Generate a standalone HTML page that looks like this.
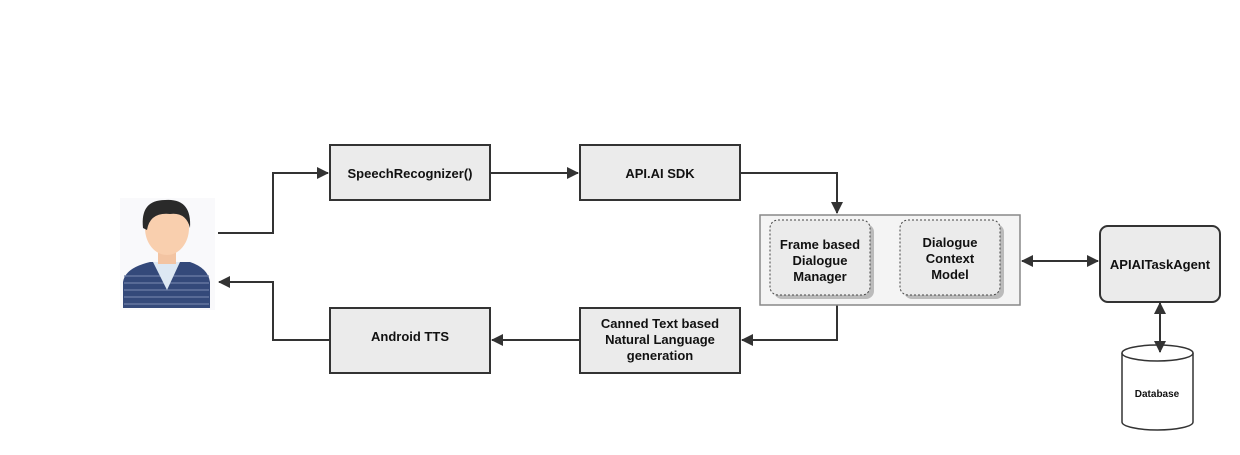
<!DOCTYPE html>
<html><head><meta charset="utf-8"><style>
body{margin:0;background:#fff;}
svg text{font-family:"Liberation Sans",Arial,sans-serif;font-weight:bold;fill:#111;}
</style></head><body>
<svg width="1240" height="450" viewBox="0 0 1240 450" xmlns="http://www.w3.org/2000/svg">
<defs>
<marker id="a" markerWidth="12" markerHeight="12" refX="11" refY="6" orient="auto" markerUnits="userSpaceOnUse"><path d="M0,0 L12,6 L0,12 z" fill="#333"/></marker>
<marker id="s" markerWidth="12" markerHeight="12" refX="1" refY="6" orient="auto" markerUnits="userSpaceOnUse"><path d="M12,0 L0,6 L12,12 z" fill="#333"/></marker>
</defs>
<!-- person -->
<rect x="120" y="198" width="95" height="112" fill="#f9f9fb"/>
<path d="M123,308 L123,282 Q125,268 150,262 L190,262 Q208,268 210,282 L210,308 z" fill="#34497a"/>
<g stroke="#6d7fa8" stroke-width="1.2"><line x1="124" y1="276" x2="209" y2="276"/><line x1="124" y1="283" x2="209" y2="283"/><line x1="124" y1="290" x2="209" y2="290"/><line x1="124" y1="297" x2="209" y2="297"/><line x1="124" y1="304" x2="209" y2="304"/></g>
<path d="M153,262 L167,290 L180,262 z" fill="#dde8f3"/>
<rect x="158" y="248" width="18" height="16" fill="#f3c4a2"/>
<ellipse cx="167" cy="228" rx="22" ry="27" fill="#f9cfae"/>
<path d="M143,228 Q140,200 165,200 Q192,198 190,228 Q186,212 170,214 Q150,212 147,230 z" fill="#2a2a2a"/>
<!-- connectors -->
<g stroke="#333" stroke-width="2" fill="none">
<polyline points="218,233 273,233 273,173 328,173" marker-end="url(#a)"/>
<line x1="490" y1="173" x2="578" y2="173" marker-end="url(#a)"/>
<polyline points="740,173 837,173 837,213" marker-end="url(#a)"/>
<polyline points="837,305 837,340 742,340" marker-end="url(#a)"/>
<line x1="580" y1="340" x2="492" y2="340" marker-end="url(#a)"/>
<polyline points="330,340 273,340 273,282 219,282" marker-end="url(#a)"/>
<line x1="1022" y1="261" x2="1098" y2="261" marker-start="url(#s)" marker-end="url(#a)"/>
</g>
<!-- boxes -->
<g fill="#ebebeb" stroke="#333" stroke-width="2">
<rect x="330" y="145" width="160" height="55"/>
<rect x="580" y="145" width="160" height="55"/>
<rect x="330" y="308" width="160" height="65"/>
<rect x="580" y="308" width="160" height="65"/>
</g>
<text x="410" y="178" font-size="13" text-anchor="middle">SpeechRecognizer()</text>
<text x="660" y="178" font-size="13" text-anchor="middle">API.AI SDK</text>
<text x="410" y="341" font-size="13" text-anchor="middle">Android TTS</text>
<text x="660" y="328" font-size="13" text-anchor="middle">Canned Text based</text>
<text x="660" y="344" font-size="13" text-anchor="middle">Natural Language</text>
<text x="660" y="360" font-size="13" text-anchor="middle">generation</text>
<!-- container -->
<rect x="760" y="215" width="260" height="90" fill="#f4f4f4" stroke="#888" stroke-width="1.5"/>
<rect x="774" y="224" width="100" height="75" rx="8" fill="#bbb"/>
<rect x="904" y="224" width="100" height="75" rx="8" fill="#bbb"/>
<rect x="770" y="220" width="100" height="75" rx="8" fill="#ebebeb" stroke="#444" stroke-dasharray="2,2"/>
<rect x="900" y="220" width="100" height="75" rx="8" fill="#ebebeb" stroke="#444" stroke-dasharray="2,2"/>
<text x="820" y="249" font-size="13" text-anchor="middle">Frame based</text>
<text x="820" y="265" font-size="13" text-anchor="middle">Dialogue</text>
<text x="820" y="281" font-size="13" text-anchor="middle">Manager</text>
<text x="950" y="247" font-size="13" text-anchor="middle">Dialogue</text>
<text x="950" y="263" font-size="13" text-anchor="middle">Context</text>
<text x="950" y="279" font-size="13" text-anchor="middle">Model</text>
<rect x="1100" y="226" width="120" height="76" rx="8" fill="#ebebeb" stroke="#333" stroke-width="2"/>
<text x="1160" y="269" font-size="13" text-anchor="middle">APIAITaskAgent</text>
<!-- database -->
<path d="M1122,353 L1122,422 A35.5,8 0 0 0 1193,422 L1193,353" fill="#fff" stroke="#333" stroke-width="1.5"/>
<ellipse cx="1157.5" cy="353" rx="35.5" ry="8" fill="#fff" stroke="#333" stroke-width="1.5"/>
<text x="1157" y="397" font-size="10" text-anchor="middle">Database</text>
<line x1="1160" y1="303" x2="1160" y2="352" stroke="#333" stroke-width="2" marker-start="url(#s)" marker-end="url(#a)"/>
</svg>
</body></html>
